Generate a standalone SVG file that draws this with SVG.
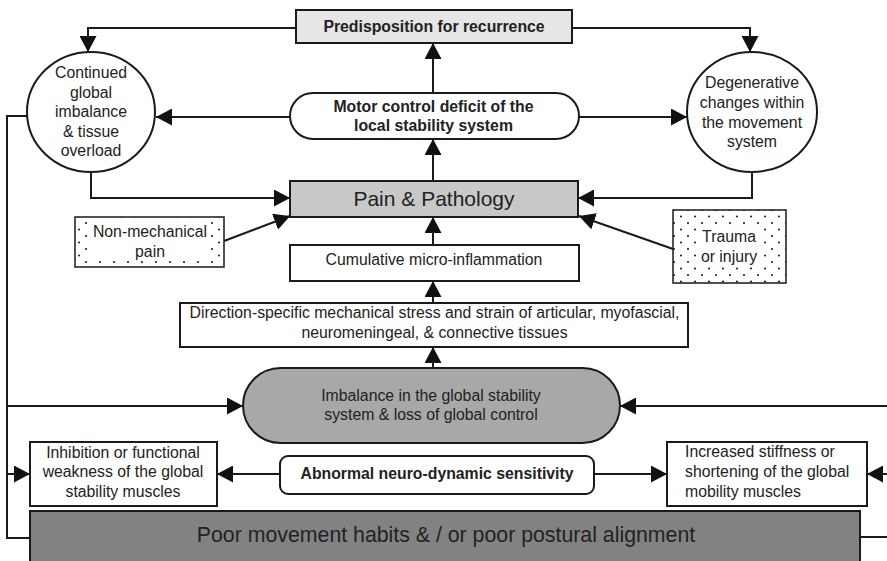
<svg xmlns="http://www.w3.org/2000/svg" width="887" height="561" viewBox="0 0 887 561">
<style>
text{font-family:"Liberation Sans",Arial,sans-serif;font-size:15.8px;fill:#222;text-anchor:middle}
.b{font-weight:bold}
.box{stroke:#1a1a1a;stroke-width:2;fill:#fff}
.con{stroke:#1a1a1a;stroke-width:2;fill:none}
.arr{marker-end:url(#ah)}
</style>
<defs>
<marker id="ah" viewBox="0 0 16 17" markerWidth="16" markerHeight="17" refX="16" refY="8.5" orient="auto" markerUnits="userSpaceOnUse"><path d="M0,0 L16,8.5 L0,17 z" fill="#111"/></marker>
<pattern id="dots" width="14" height="13" patternUnits="userSpaceOnUse"><rect width="14" height="13" fill="#fff"/><circle cx="2" cy="2" r="1" fill="#111"/><circle cx="9" cy="8.5" r="1" fill="#111"/></pattern>
</defs>
<g id="connectors">
<path class="con arr" d="M296,28 H88 V52"/>
<path class="con arr" d="M572,28 H750 V52"/>
<path class="con arr" d="M433,93 V43"/>
<path class="con arr" d="M290,117 H156"/>
<path class="con arr" d="M579,117 H687"/>
<path class="con arr" d="M433,181 V139"/>
<path class="con arr" d="M91,172 V198 H290"/>
<path class="con arr" d="M752,172 V198 H578"/>
<path class="con arr" d="M224,241 L290,216"/>
<path class="con arr" d="M673,249 L579,216"/>
<path class="con arr" d="M433,245 V217"/>
<path class="con arr" d="M433,303 V281"/>
<path class="con arr" d="M433,368 V347"/>
<path class="con" d="M27,116 H7 V538 H30"/>
<path class="con arr" d="M7,406 H243"/>
<path class="con arr" d="M7,474 H30"/>
<path class="con arr" d="M887,406 H620"/>
<path class="con arr" d="M887,474 H867"/>
<path class="con" d="M860,537 H887"/>
<path class="con arr" d="M280,474 H217"/>
<path class="con arr" d="M594,474 H667"/>
</g>
<g id="predisposition">
<rect class="box" x="296" y="10" width="276" height="33" style="fill:#e6e6e6"/>
<text class="b" x="434" y="32">Predisposition for recurrence</text>
</g>
<g id="continued">
<ellipse class="box" cx="91" cy="112" rx="64" ry="60"/>
<text x="91" y="78">Continued</text>
<text x="91" y="97.5">global</text>
<text x="91" y="117">imbalance</text>
<text x="91" y="136.5">&amp; tissue</text>
<text x="91" y="156">overload</text>
</g>
<g id="degenerative">
<ellipse class="box" cx="752" cy="112" rx="65" ry="60"/>
<text x="752" y="88">Degenerative</text>
<text x="752" y="108">changes within</text>
<text x="752" y="128">the movement</text>
<text x="752" y="147">system</text>
</g>
<g id="motor">
<rect class="box" x="290" y="93" width="289" height="46" rx="23"/>
<text class="b" x="433.5" y="112">Motor control deficit of the</text>
<text class="b" x="433.5" y="131">local stability system</text>
</g>
<g id="pain">
<rect class="box" x="290" y="181" width="288" height="36" style="fill:#c8c8c8"/>
<text x="434" y="206" style="font-size:21px">Pain &amp; Pathology</text>
</g>
<g id="nonmech">
<rect class="box" x="75" y="217" width="149" height="50" style="fill:url(#dots);stroke-width:1.5"/>
<rect x="87" y="221" width="124" height="39" fill="#fff"/>
<text x="150" y="237">Non-mechanical</text>
<text x="150" y="257">pain</text>
</g>
<g id="trauma">
<rect class="box" x="673" y="210" width="113" height="73" style="fill:url(#dots);stroke-width:1.5"/>
<rect x="698" y="226" width="63" height="41" fill="#fff"/>
<text x="729" y="242">Trauma</text>
<text x="729" y="262">or injury</text>
</g>
<g id="cumulative">
<rect class="box" x="290" y="245" width="289" height="36"/>
<text x="434" y="265">Cumulative micro-inflammation</text>
</g>
<g id="direction">
<rect class="box" x="180" y="303" width="508" height="44"/>
<text x="434.5" y="318">Direction-specific mechanical stress and strain of articular, myofascial,</text>
<text x="434.5" y="338">neuromeningeal, &amp; connective tissues</text>
</g>
<g id="imbalance">
<rect class="box" x="243" y="368" width="377" height="75" rx="37.5" style="fill:#a8a8a8"/>
<text x="431" y="401">Imbalance in the global stability</text>
<text x="431" y="420">system &amp; loss of global control</text>
</g>
<g id="inhibition">
<rect class="box" x="30" y="442" width="187" height="64"/>
<text x="123" y="458">Inhibition or functional</text>
<text x="123" y="477">weakness of the global</text>
<text x="123" y="497">stability muscles</text>
</g>
<g id="abnormal">
<rect class="box" x="280" y="456" width="314" height="38" rx="8"/>
<text class="b" x="437" y="479">Abnormal neuro-dynamic sensitivity</text>
</g>
<g id="increased">
<rect class="box" x="667" y="442" width="200" height="64"/>
<text x="685" y="457" style="text-anchor:start">Increased stiffness or</text>
<text x="685" y="477" style="text-anchor:start">shortening of the global</text>
<text x="685" y="497" style="text-anchor:start">mobility muscles</text>
</g>
<g id="poor">
<rect class="box" x="30" y="511" width="830" height="60" style="fill:#828282"/>
<text x="446" y="542" style="font-size:21.3px">Poor movement habits &amp; / or poor postural alignment</text>
</g>
</svg>
